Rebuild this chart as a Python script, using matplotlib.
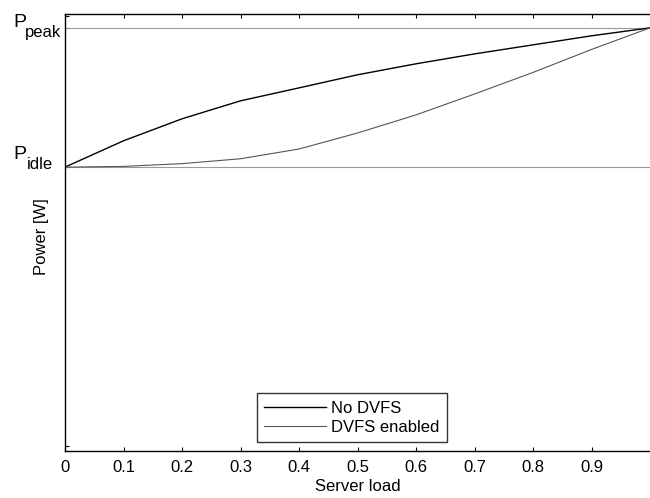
import matplotlib
matplotlib.use('Agg')
import matplotlib.pyplot as plt

plt.rcParams['font.family'] = ['Liberation Sans', 'DejaVu Sans']

# datos
carga = [0, 0.1, 0.2, 0.3, 0.4, 0.5, 0.6, 0.7, 0.8, 0.9, 1.0]
sin_dvfs = [200, 218.9, 234.7, 247.6, 256.9, 266.3, 274.2, 281.3, 287.8, 294.3, 300]
con_dvfs = [200, 200.5, 202.5, 206, 213, 224.5, 237.5, 252.5, 268, 284.5, 300]
p_idle = 200
p_peak = 300
xticks = [0, 0.1, 0.2, 0.3, 0.4, 0.5, 0.6, 0.7, 0.8, 0.9]
xtick_labels = ['0', '0.1', '0.2', '0.3', '0.4', '0.5', '0.6', '0.7', '0.8', '0.9']

fig = plt.figure(figsize=(6.5, 4.98), dpi=100)
ax = fig.add_axes([0.1, 0.094, 0.9, 0.878])

ax.axhline(p_peak, color='#999999', linewidth=0.8)
ax.axhline(p_idle, color='#999999', linewidth=0.8)
ax.plot(carga, sin_dvfs, color='black', linewidth=1.0, label='No DVFS')
ax.plot(carga, con_dvfs, color='#555555', linewidth=0.8, label='DVFS enabled')

ax.set_xlim(0, 1)
ax.set_ylim(-4, 310)
ax.set_xticks(xticks)
ax.set_xticklabels(xtick_labels, fontsize=12)
ax.set_yticks([0, p_idle, p_peak, 308.6])
ax.set_yticklabels([])
ax.tick_params(direction='in', length=3, width=0.8, top=True, right=False)
ax.tick_params(axis='x', pad=6)
ax.spines['right'].set_visible(False)
for s in ['left', 'bottom', 'top']:
    ax.spines[s].set_linewidth(1.0)

# etiquetas P_peak y P_idle (estilo MATLAB, subindice casi del mismo tamano)
etiquetas = [('peak', p_peak, 1, -9, -40), ('idle', p_idle, 8, -2, -38)]
for sub, yv, dy_p, dy_sub, dx_sub in etiquetas:
    ax.annotate('P', xy=(0, yv), xycoords=('axes fraction', 'data'),
                xytext=(-52, dy_p), textcoords='offset pixels',
                ha='left', va='baseline', fontsize=14)
    ax.annotate(sub, xy=(0, yv), xycoords=('axes fraction', 'data'),
                xytext=(dx_sub, dy_sub), textcoords='offset pixels',
                ha='left', va='baseline', fontsize=12)

ax.set_xlabel('Server load', fontsize=12, labelpad=3)
ax.set_ylabel('Power [W]', fontsize=12)
ax.yaxis.set_label_coords(-0.028, 0.49)

leg = ax.legend(loc='lower left', bbox_to_anchor=(0.328, 0.02), fontsize=12,
                frameon=True, fancybox=False, handlelength=3.7, borderpad=0.45,
                labelspacing=0.25, handletextpad=0.3, borderaxespad=0)
leg.get_frame().set_edgecolor('black')
leg.get_frame().set_linewidth(1.0)

plt.savefig('out.png', dpi=100, facecolor='white')
